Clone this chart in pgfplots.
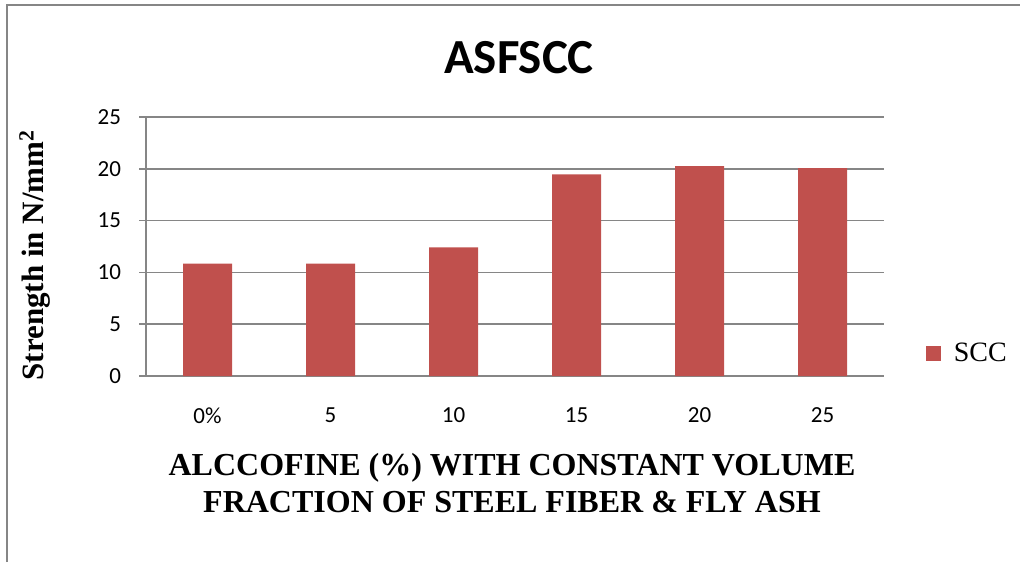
\documentclass[border=0pt]{standalone}
\usepackage{fontspec}
\setmainfont{Liberation Serif}
\newfontfamily\calibri{Carlito}
\usepackage{pgfplots}
\pgfplotsset{compat=1.18}
\definecolor{barred}{HTML}{C0504D}
\definecolor{gridgray}{HTML}{868686}

\begin{document}
\begin{tikzpicture}
  % page = 1020x562 px at 0.5pt per px
  \path[use as bounding box] (0,0) rectangle (510pt,281pt);
  \draw[gridgray, line width=1pt] (3.5pt,0) -- (3.5pt,278.5pt) -- (510pt,278.5pt);
  \begin{axis}[
    at={(73pt,93pt)},
    anchor=south west,
    scale only axis,
    width=369pt,
    height=129.5pt,
    ybar,
    bar width=24.5pt,
    xmin=-0.5, xmax=5.5,
    ymin=0, ymax=25,
    ytick={0,5,...,25},
    xtick={0,1,2,3,4,5},
    xticklabels={0\%,5,10,15,20,25},
    minor xtick={-0.5,0.5,...,5.5},
    axis x line*=bottom,
    axis y line*=left,
    axis line style={gridgray, line width=0.8pt, -},
    tick align=outside,
    major tick length=3.5pt,
    minor tick length=3.5pt,
    xtick style={draw=none},
    minor x tick style={gridgray, line width=0.8pt},
    ytick style={gridgray, line width=0.8pt},
    ymajorgrids,
    grid style={gridgray, line width=0.8pt},
    tick label style={font=\calibri\fontsize{11.5}{13}\selectfont},
    /pgf/number format/assume math mode=true,
    xticklabel style={yshift=-9pt},
    yticklabel style={xshift=-5.5pt},
    legend style={at={(1.048,0.085)}, anchor=west, draw=none, fill=none,
      font=\fontsize{14}{16}\selectfont},
    legend image code/.code={\fill[barred] (0pt,-3.75pt) rectangle (7.5pt,3.75pt);
      \path (12pt,0pt);},
  ]
    \addplot[fill=barred, draw=none] coordinates {
      (0,10.84) (1,10.84) (2,12.41) (3,19.47) (4,20.26) (5,20.07)};
    \addlegendentry{SCC}
  \end{axis}
  \node[font=\calibri\bfseries\fontsize{24.5}{28}\selectfont] at (259.5pt,252pt) {ASFSCC};
  \node[rotate=90, font=\bfseries\fontsize{15.5}{18}\selectfont] at (17.5pt,153.5pt) {Strength in N/mm\textsuperscript{2}};
  \node[align=center, font=\bfseries\fontsize{16}{18.5}\selectfont] at (256pt,39.5pt)
    {ALCCOFINE (\%) WITH CONSTANT VOLUME\\FRACTION OF STEEL FIBER \& FLY ASH};
\end{tikzpicture}
\end{document}
